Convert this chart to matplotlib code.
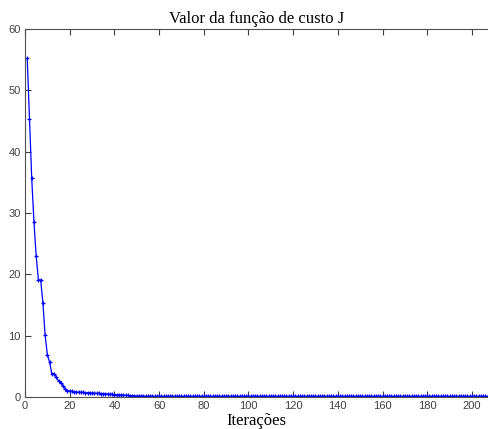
import matplotlib
matplotlib.use("Agg")
import matplotlib.pyplot as plt

# custo J por iteracao
custo_inicio = [55.2, 45.3, 35.7, 28.6, 23.0, 19.1, 19.1, 15.4, 10.1, 6.9,
                5.7, 3.8, 3.8, 3.3, 2.6, 2.3, 1.8, 1.3, 1.0, 1.0]
custo_meio = [0.9, 0.85, 0.8, 0.8, 0.75, 0.75, 0.7, 0.7, 0.7, 0.65,
              0.6, 0.6, 0.6, 0.55, 0.55, 0.5, 0.5, 0.45, 0.45, 0.4,
              0.38, 0.35, 0.32, 0.3, 0.28, 0.25, 0.22, 0.2, 0.18, 0.16,
              0.15, 0.14, 0.13, 0.12, 0.11, 0.1, 0.1, 0.1, 0.1, 0.1]
custo_fim = [0.1, 0.1, 0.1, 0.1, 0.1, 0.1, 0.1, 0.1, 0.1, 0.1,
             0.1, 0.1, 0.1, 0.1, 0.1, 0.1, 0.1, 0.1, 0.1, 0.1,
             0.1, 0.1, 0.1, 0.1, 0.1, 0.1, 0.1, 0.1, 0.1, 0.1,
             0.1, 0.1, 0.1, 0.1, 0.1, 0.1, 0.1, 0.1, 0.1, 0.1,
             0.1, 0.1, 0.1, 0.1, 0.1, 0.1, 0.1, 0.1, 0.1, 0.1,
             0.1, 0.1, 0.1, 0.1, 0.1, 0.1, 0.1, 0.1, 0.1, 0.1,
             0.1, 0.1, 0.1, 0.1, 0.1, 0.1, 0.1, 0.1, 0.1, 0.1,
             0.1, 0.1, 0.1, 0.1, 0.1, 0.1, 0.1, 0.1, 0.1, 0.1,
             0.1, 0.1, 0.1, 0.1, 0.1, 0.1, 0.1, 0.1, 0.1, 0.1,
             0.1, 0.1, 0.1, 0.1, 0.1, 0.1, 0.1, 0.1, 0.1, 0.1,
             0.1, 0.1, 0.1, 0.1, 0.1, 0.1, 0.1, 0.1, 0.1, 0.1,
             0.1, 0.1, 0.1, 0.1, 0.1, 0.1, 0.1, 0.1, 0.1, 0.1,
             0.1, 0.1, 0.1, 0.1, 0.1, 0.1, 0.1, 0.1, 0.1, 0.1,
             0.1, 0.1, 0.1, 0.1, 0.1, 0.1, 0.1, 0.1, 0.1, 0.1,
             0.1, 0.1, 0.1, 0.1, 0.1, 0.1, 0.1, 0.1, 0.1, 0.1]
custo = custo_inicio + custo_meio + custo_fim
iteracoes = list(range(1, len(custo) + 1))

x_ticks = [0, 20, 40, 60, 80, 100, 120, 140, 160, 180, 200]
y_ticks = [0, 10, 20, 30, 40, 50, 60]

fig = plt.figure(figsize=(4.88, 4.29), dpi=100)
ax = fig.add_axes([25 / 488, 32 / 429, 463 / 488, 368 / 429])

ax.plot(iteracoes, custo, color="#0000ff", linewidth=0.9,
        marker="+", markersize=3.5, markeredgewidth=0.9)

ax.set_xlim(0, 207.2)
ax.set_ylim(0, 60)
ax.set_xticks(x_ticks)
ax.set_yticks(y_ticks)
ax.tick_params(direction="in", length=4, width=0.8, top=True, right=False,
               labelsize=8, colors="#404040", pad=3,
               labelfontfamily="Liberation Sans")
for side in ("left", "bottom", "top"):
    ax.spines[side].set_color("#505050")
    ax.spines[side].set_linewidth(0.8)
ax.spines["right"].set_visible(False)

ax.set_title("Valor da função de custo J", fontsize=12,
             family="Liberation Serif", pad=4)
ax.set_xlabel("Iterações", fontsize=12, family="Liberation Serif", labelpad=1)

fig.savefig("out.png", dpi=100)
